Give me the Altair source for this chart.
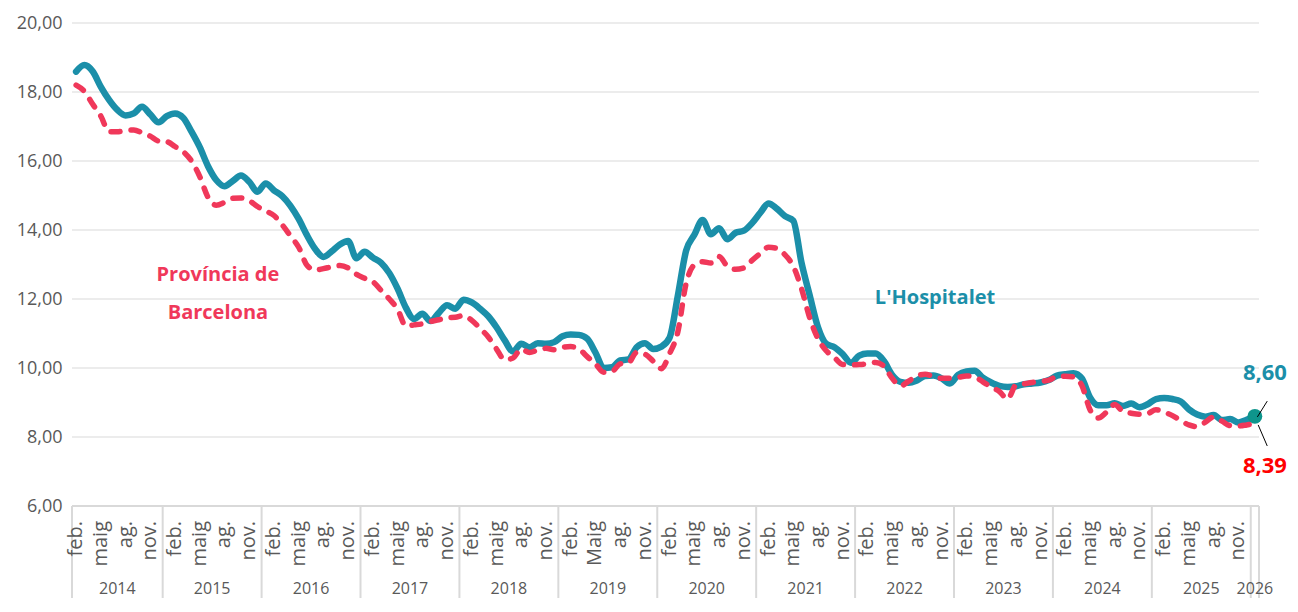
import altair as alt
import pandas as pd

FONT = "Open Sans"
TEAL = "#1b8fa9"
RED = "#f0385a"
GREY_TXT = "#595959"

# Monthly series, Feb 2014 .. Jan 2026
hosp = [
    18.59, 18.78, 18.60, 18.15, 17.77, 17.48, 17.32, 17.38, 17.57, 17.35, 17.12,            # 2014 feb-dec
    17.30, 17.38, 17.25, 16.85, 16.40, 15.85, 15.45, 15.27, 15.42, 15.58, 15.40, 15.11,     # 2015
    15.35, 15.15, 14.98, 14.70, 14.32, 13.85, 13.45, 13.22, 13.38, 13.58, 13.68, 13.18,     # 2016
    13.37, 13.20, 13.05, 12.75, 12.30, 11.75, 11.42, 11.57, 11.36, 11.60, 11.82, 11.72,     # 2017
    11.98, 11.90, 11.72, 11.50, 11.18, 10.80, 10.48, 10.70, 10.60, 10.72, 10.70, 10.75,     # 2018
    10.92, 10.97, 10.96, 10.85, 10.45, 10.00, 10.02, 10.22, 10.25, 10.60, 10.72, 10.55,     # 2019
    10.62, 10.88, 12.10, 13.40, 13.86, 14.29, 13.88, 14.05, 13.73, 13.92, 13.98, 14.20,     # 2020
    14.50, 14.77, 14.62, 14.40, 14.27, 13.05, 12.10, 11.18, 10.70, 10.60, 10.40, 10.15,     # 2021
    10.36, 10.42, 10.42, 10.20, 9.80, 9.60, 9.57, 9.64, 9.77, 9.78, 9.70, 9.55,             # 2022
    9.80, 9.90, 9.92, 9.72, 9.58, 9.48, 9.45, 9.47, 9.53, 9.55, 9.58, 9.65,                 # 2023
    9.78, 9.82, 9.85, 9.70, 9.15, 8.92, 8.92, 8.98, 8.90, 8.97, 8.86, 8.95,                 # 2024
    9.10, 9.13, 9.10, 9.03, 8.80, 8.65, 8.59, 8.64, 8.49, 8.52, 8.42, 8.50,                 # 2025
    8.60,                                                                                   # 2026 gen
]
bcn = [
    18.20, 18.02, 17.65, 17.30, 16.85, 16.85, 16.88, 16.90, 16.82, 16.72, 16.58,            # 2014
    16.56, 16.42, 16.27, 16.00, 15.55, 14.95, 14.72, 14.80, 14.92, 14.93, 14.85, 14.68,     # 2015
    14.55, 14.42, 14.15, 13.83, 13.50, 12.98, 12.84, 12.88, 12.93, 12.97, 12.90, 12.72,     # 2016
    12.60, 12.50, 12.25, 12.00, 11.70, 11.22, 11.25, 11.28, 11.35, 11.40, 11.46, 11.47,     # 2017
    11.52, 11.38, 11.15, 10.90, 10.55, 10.24, 10.29, 10.55, 10.45, 10.52, 10.57, 10.53,     # 2018
    10.60, 10.62, 10.55, 10.33, 10.12, 9.88, 9.90, 10.12, 10.15, 10.45, 10.40, 10.20,       # 2019
    9.98, 10.42, 11.05, 12.45, 12.99, 13.08, 13.04, 13.23, 12.95, 12.86, 12.90, 13.12,      # 2020
    13.32, 13.50, 13.47, 13.28, 12.95, 12.30, 11.45, 10.85, 10.50, 10.30, 10.10, 10.09,     # 2021
    10.10, 10.12, 10.16, 10.05, 9.70, 9.48, 9.62, 9.77, 9.82, 9.76, 9.70, 9.70,             # 2022
    9.73, 9.77, 9.74, 9.60, 9.45, 9.32, 9.10, 9.50, 9.54, 9.58, 9.61, 9.65,                 # 2023
    9.75, 9.76, 9.74, 9.50, 8.79, 8.55, 8.72, 8.94, 8.74, 8.69, 8.66, 8.68,                 # 2024
    8.79, 8.72, 8.62, 8.48, 8.35, 8.30, 8.43, 8.58, 8.46, 8.33, 8.32, 8.35,                 # 2025
    8.39,                                                                                   # 2026
]

years = list(range(2014, 2027))
month_labels = ["feb.", "maig", "ag.", "nov."]
month_numbers = [2, 5, 8, 11]
y_ticks = [6, 8, 10, 12, 14, 16, 18, 20]

series_names = ["L'Hospitalet", "Província de Barcelona"]

n = len(hosp)


def idx(year, month):
    if year == 2014:
        return month - 2
    return 11 + 12 * (year - 2015) + (month - 1)


df = pd.DataFrame({"i": list(range(n)), "hosp": hosp, "bcn": bcn})

month_rows = []
for yr in years:
    for name, m in zip(month_labels, month_numbers):
        k = idx(yr, m)
        if 0 <= k < n:
            lab = "Maig" if (yr == 2019 and name == "maig") else name
            month_rows.append({"i": k, "label": lab})
months_df = pd.DataFrame(month_rows)

year_rows, sep_rows = [], [{"x": -0.5}]
for yr in years:
    start = 0 if yr == 2014 else idx(yr, 1)
    end = min(idx(yr, 12), n - 1)
    year_rows.append({"x": (start + end) / 2, "label": str(yr)})
    sep_rows.append({"x": end + 0.5})
years_df = pd.DataFrame(year_rows)
seps_df = pd.DataFrame(sep_rows)

W, H = 1187, 483
xs = alt.Scale(domain=[-0.5, n - 0.5], nice=False, zero=False)
ys = alt.Scale(domain=[6, 20], nice=False, zero=False)
yax = alt.Axis(values=y_ticks, grid=False, domain=False, ticks=False,
               labelExpr="replace(format(datum.value, '.2f'), '.', ',')",
               labelFont=FONT, labelFontSize=18, labelColor=GREY_TXT,
               labelPadding=10)
xq = lambda f: alt.X(f, scale=xs, axis=None)
yq = lambda f: alt.Y(f, scale=ys, axis=yax, title=None)

base = alt.Chart(df)

grid = alt.Chart(pd.DataFrame({"v": y_ticks})).mark_rule(
    color="#ececec", strokeWidth=2
).encode(y=yq("v:Q"))

axis_line = alt.Chart(pd.DataFrame({"v": [6]})).mark_rule(
    color="#d9d9d9", strokeWidth=2
).encode(y=yq("v:Q"))

seps = alt.Chart(seps_df).mark_rule(color="#d9d9d9", strokeWidth=2).encode(
    x=xq("x:Q"),
    y=alt.value(H),
    y2=alt.value(H + 100),
)

month_text = alt.Chart(months_df).mark_text(
    angle=270, align="right", baseline="middle", font=FONT, fontSize=20, color=GREY_TXT
).encode(x=xq("i:Q"), y=alt.value(H + 15), text="label:N")

year_text = alt.Chart(years_df).mark_text(
    align="center", baseline="middle", font=FONT, fontSize=16, color=GREY_TXT
).encode(x=xq("x:Q"), y=alt.value(H + 83), text="label:N")

line_h = base.mark_line(
    color=TEAL, strokeWidth=6.5, interpolate="monotone", strokeCap="round", strokeJoin="round"
).encode(x=xq("i:Q"), y=yq("hosp:Q"))

end_marker = alt.Chart(df.tail(1)).mark_point(
    filled=True, size=220, color="#0e958c", opacity=1
).encode(x=xq("i:Q"), y=yq("hosp:Q"))

line_b = base.mark_line(
    color=RED, strokeWidth=5.5, interpolate="monotone", strokeDash=[9, 11],
    strokeCap="round", strokeJoin="round"
).encode(x=xq("i:Q"), y=yq("bcn:Q"))

last = n - 1
leaders = alt.Chart(pd.DataFrame([
    {"x": last + 0.3, "x2": last + 1.5, "y": hosp[-1] - 0.02, "y2": hosp[-1] + 0.44},
    {"x": last + 0.4, "x2": last + 1.5, "y": bcn[-1] - 0.04, "y2": bcn[-1] - 0.65},
])).mark_rule(color="#000000", strokeWidth=1).encode(
    x=xq("x:Q"), x2="x2:Q", y=yq("y:Q"), y2="y2:Q",
)

end_h = alt.Chart(df.tail(1).assign(t=f"{hosp[-1]:.2f}".replace(".", ","))).mark_text(
    font=FONT, fontSize=22, fontWeight="bold", color=TEAL, dx=10, dy=-43
).encode(x=xq("i:Q"), y=yq("hosp:Q"), text="t:N")

end_b = alt.Chart(df.tail(1).assign(t=f"{bcn[-1]:.2f}".replace(".", ","))).mark_text(
    font=FONT, fontSize=22, fontWeight="bold", color="#ff0000", dx=10, dy=42
).encode(x=xq("i:Q"), y=yq("bcn:Q"), text="t:N")

labels_df = pd.DataFrame([
    {"x": 17.2, "y": 12.70, "t": "Província de", "c": RED},
    {"x": 17.2, "y": 11.59, "t": "Barcelona", "c": RED},
    {"x": 104.2, "y": 12.03, "t": series_names[0], "c": TEAL},
])
series_text = alt.Chart(labels_df).mark_text(
    font=FONT, fontSize=20, fontWeight="bold", align="center", baseline="middle"
).encode(
    x=xq("x:Q"), y=yq("y:Q"),
    text="t:N", color=alt.Color("c:N", scale=None, legend=None),
)

chart = alt.layer(
    grid, axis_line, seps, month_text, year_text, line_h, end_marker, line_b,
    leaders, end_h, end_b, series_text,
).properties(
    width=W, height=H,
    background="white",
    autosize=alt.AutoSizeParams(type="none"),
    padding={"left": 64, "top": 15, "right": 31, "bottom": 92},
).configure_view(strokeWidth=0)

chart.save("out.html", embed_options={"renderer": "svg", "actions": False})
